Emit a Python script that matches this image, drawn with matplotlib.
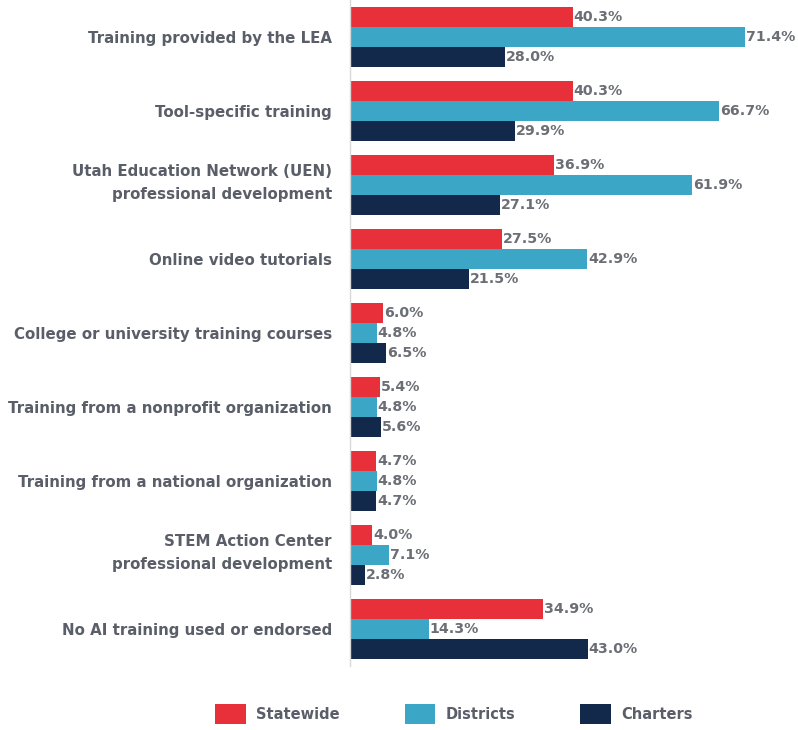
import numpy as np
import matplotlib.pyplot as plt
from matplotlib.transforms import ScaledTranslation

# DATA
categories = ['Training provided by the LEA',
              'Tool-specific training',
              'Utah Education Network (UEN)\nprofessional development',
              'Online video tutorials',
              'College or university training courses',
              'Training from a nonprofit organization',
              'Training from a national organization',
              'STEM Action Center\nprofessional development',
              'No AI training used or endorsed']
statewide = [40.3, 40.3, 36.9, 27.5, 6.0, 5.4, 4.7, 4.0, 34.9]
districts = [71.4, 66.7, 61.9, 42.9, 4.8, 4.8, 4.8, 7.1, 14.3]
charters = [28.0, 29.9, 27.1, 21.5, 6.5, 5.6, 4.7, 2.8, 43.0]
series_names = ['Statewide', 'Districts', 'Charters']

colors = ['#e8303a', '#3ba6c5', '#13294b']
label_color = '#5a5e68'

plt.rcParams['font.family'] = ['DejaVu Sans']

fig = plt.figure(figsize=(7.98, 7.30), dpi=100)
ax = fig.add_axes([350/798, 1 - 666/730, 448/798, 666/730])

y = np.arange(len(categories))
h = 0.27
for k, vals in enumerate([statewide, districts, charters]):
    pos = y + (k - 1) * h
    ax.barh(pos, vals, height=h, color=colors[k], label=series_names[k])
    for p, v in zip(pos, vals):
        ax.text(v + 0.15, p, f'{v:.1f}%', va='center', ha='left',
                fontsize=10.2, fontweight='bold', color='#6b6e75')

ax.set_ylim(len(categories) - 0.5, -0.5)
ax.set_xlim(0, 81)
ax.set_yticks(y)
ax.set_yticklabels(categories, fontsize=10.8, fontweight='bold', color=label_color,
                   ha='right', multialignment='right', linespacing=1.6)
ax.tick_params(axis='y', length=0, pad=13)
# two-line labels sit a little higher in the original
for lab in ax.get_yticklabels():
    if '\n' in lab.get_text():
        lab.set_transform(lab.get_transform() + ScaledTranslation(0, 7/100, fig.dpi_scale_trans))
ax.set_xticks([])
for s in ['top', 'right', 'bottom']:
    ax.spines[s].set_visible(False)
ax.spines['left'].set_color('#d9d9d9')
ax.spines['left'].set_linewidth(1.0)

# legend under the chart
handles, labs = ax.get_legend_handles_labels()
leg = fig.legend(handles, labs, loc='center', bbox_to_anchor=(0.569, 16/730), ncol=3,
                 frameon=False, handlelength=2.1, handleheight=1.75,
                 columnspacing=4.45, handletextpad=0.7,
                 prop={'weight': 'bold', 'size': 10.5})
for t in leg.get_texts():
    t.set_color(label_color)

fig.savefig('out.png', dpi=100)
